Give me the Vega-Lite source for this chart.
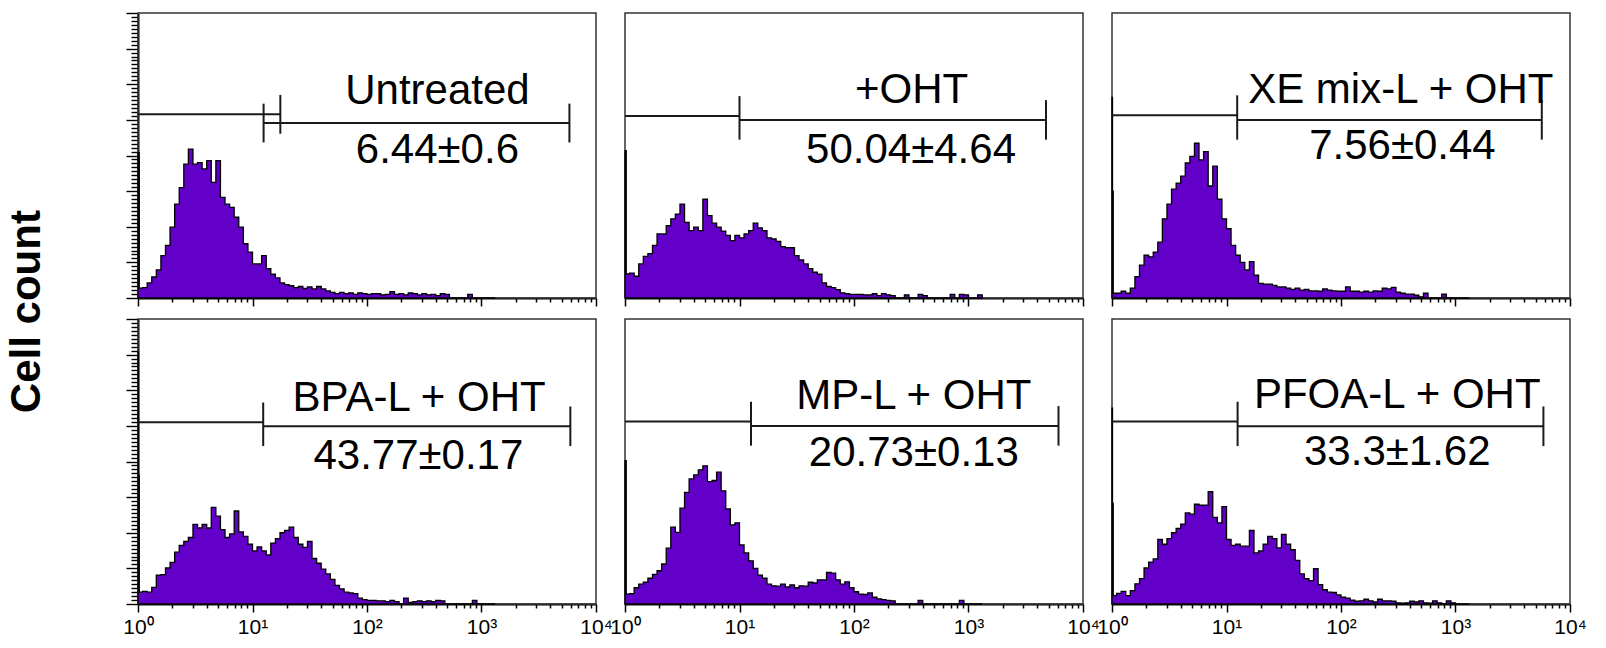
{
  "$schema": "https://vega.github.io/schema/vega-lite/v6.json",
  "background": "white",
  "padding": {"left": 5, "top": 12, "right": 5, "bottom": 5},
  "title": {"text": "Cell count", "orient": "left", "anchor": "middle", "font": "Liberation Sans", "fontSize": 42, "fontWeight": "bold", "color": "black", "offset": 74, "dx": 13},
  "spacing": 11,
  "config": {"view": {"stroke": "#333", "strokeWidth": 1.5}, "font": "Liberation Sans"},
  "datasets": {
    "d": [
      {"p":"A","k":"h","x":1,"c":367},{"p":"A","k":"h","x":1.025,"c":25},{"p":"A","k":"h","x":1.096,"c":26},{"p":"A","k":"h","x":1.202,"c":38},{"p":"A","k":"h","x":1.318,"c":53},{"p":"A","k":"h","x":1.445,"c":71},{"p":"A","k":"h","x":1.585,"c":107},{"p":"A","k":"h","x":1.738,"c":133},{"p":"A","k":"h","x":1.905,"c":179},{"p":"A","k":"h","x":2.089,"c":237},{"p":"A","k":"h","x":2.291,"c":279},{"p":"A","k":"h","x":2.512,"c":338},{"p":"A","k":"h","x":2.754,"c":376},{"p":"A","k":"h","x":3.02,"c":338},{"p":"A","k":"h","x":3.311,"c":342},{"p":"A","k":"h","x":3.631,"c":326},{"p":"A","k":"h","x":3.981,"c":347},{"p":"A","k":"h","x":4.365,"c":292},{"p":"A","k":"h","x":4.786,"c":347},{"p":"A","k":"h","x":5.248,"c":254},{"p":"A","k":"h","x":5.754,"c":237},{"p":"A","k":"h","x":6.31,"c":229},{"p":"A","k":"h","x":6.918,"c":204},{"p":"A","k":"h","x":7.586,"c":179},{"p":"A","k":"h","x":8.318,"c":137},{"p":"A","k":"h","x":9.12,"c":116},{"p":"A","k":"h","x":10,"c":86},{"p":"A","k":"h","x":10.96,"c":86},{"p":"A","k":"h","x":12.02,"c":107},{"p":"A","k":"h","x":13.18,"c":74},{"p":"A","k":"h","x":14.45,"c":60},{"p":"A","k":"h","x":15.85,"c":51},{"p":"A","k":"h","x":17.38,"c":38},{"p":"A","k":"h","x":19.05,"c":34},{"p":"A","k":"h","x":20.89,"c":31},{"p":"A","k":"h","x":22.91,"c":26},{"p":"A","k":"h","x":25.12,"c":29},{"p":"A","k":"h","x":27.54,"c":24},{"p":"A","k":"h","x":30.2,"c":28},{"p":"A","k":"h","x":33.11,"c":23},{"p":"A","k":"h","x":36.31,"c":29},{"p":"A","k":"h","x":39.81,"c":23},{"p":"A","k":"h","x":43.65,"c":18},{"p":"A","k":"h","x":47.86,"c":14},{"p":"A","k":"h","x":52.48,"c":11},{"p":"A","k":"h","x":57.54,"c":14},{"p":"A","k":"h","x":63.1,"c":11},{"p":"A","k":"h","x":69.18,"c":13},{"p":"A","k":"h","x":75.86,"c":9},{"p":"A","k":"h","x":83.18,"c":13},{"p":"A","k":"h","x":91.2,"c":11},{"p":"A","k":"h","x":100,"c":9},{"p":"A","k":"h","x":109.6,"c":11},{"p":"A","k":"h","x":120.2,"c":11},{"p":"A","k":"h","x":131.8,"c":8},{"p":"A","k":"h","x":144.5,"c":9},{"p":"A","k":"h","x":158.5,"c":16},{"p":"A","k":"h","x":173.8,"c":9},{"p":"A","k":"h","x":190.5,"c":11},{"p":"A","k":"h","x":208.9,"c":8},{"p":"A","k":"h","x":229.1,"c":13},{"p":"A","k":"h","x":251.2,"c":11},{"p":"A","k":"h","x":275.4,"c":8},{"p":"A","k":"h","x":302,"c":11},{"p":"A","k":"h","x":331.1,"c":8},{"p":"A","k":"h","x":363.1,"c":9},{"p":"A","k":"h","x":398.1,"c":6},{"p":"A","k":"h","x":436.5,"c":11},{"p":"A","k":"h","x":478.6,"c":9},{"p":"A","k":"h","x":524.8,"c":0},{"p":"A","k":"h","x":758.6,"c":9},{"p":"A","k":"h","x":831.8,"c":0},{"p":"A","k":"h","x":1318,"c":0},

      {"p":"B","k":"h","x":1,"c":372},{"p":"B","k":"h","x":1.025,"c":61},{"p":"B","k":"h","x":1.096,"c":63},{"p":"B","k":"h","x":1.202,"c":55},{"p":"B","k":"h","x":1.318,"c":86},{"p":"B","k":"h","x":1.445,"c":105},{"p":"B","k":"h","x":1.585,"c":112},{"p":"B","k":"h","x":1.738,"c":133},{"p":"B","k":"h","x":1.905,"c":162},{"p":"B","k":"h","x":2.089,"c":162},{"p":"B","k":"h","x":2.291,"c":183},{"p":"B","k":"h","x":2.512,"c":200},{"p":"B","k":"h","x":2.754,"c":212},{"p":"B","k":"h","x":3.02,"c":237},{"p":"B","k":"h","x":3.311,"c":191},{"p":"B","k":"h","x":3.631,"c":170},{"p":"B","k":"h","x":3.981,"c":179},{"p":"B","k":"h","x":4.365,"c":170},{"p":"B","k":"h","x":4.786,"c":250},{"p":"B","k":"h","x":5.248,"c":208},{"p":"B","k":"h","x":5.754,"c":189},{"p":"B","k":"h","x":6.31,"c":179},{"p":"B","k":"h","x":6.918,"c":169},{"p":"B","k":"h","x":7.586,"c":158},{"p":"B","k":"h","x":8.318,"c":145},{"p":"B","k":"h","x":9.12,"c":158},{"p":"B","k":"h","x":10,"c":152},{"p":"B","k":"h","x":10.96,"c":162},{"p":"B","k":"h","x":12.02,"c":170},{"p":"B","k":"h","x":13.18,"c":189},{"p":"B","k":"h","x":14.45,"c":177},{"p":"B","k":"h","x":15.85,"c":170},{"p":"B","k":"h","x":17.38,"c":152},{"p":"B","k":"h","x":19.05,"c":149},{"p":"B","k":"h","x":20.89,"c":143},{"p":"B","k":"h","x":22.91,"c":130},{"p":"B","k":"h","x":25.12,"c":127},{"p":"B","k":"h","x":27.54,"c":127},{"p":"B","k":"h","x":30.2,"c":107},{"p":"B","k":"h","x":33.11,"c":96},{"p":"B","k":"h","x":36.31,"c":86},{"p":"B","k":"h","x":39.81,"c":74},{"p":"B","k":"h","x":43.65,"c":65},{"p":"B","k":"h","x":47.86,"c":60},{"p":"B","k":"h","x":52.48,"c":38},{"p":"B","k":"h","x":57.54,"c":29},{"p":"B","k":"h","x":63.1,"c":26},{"p":"B","k":"h","x":69.18,"c":21},{"p":"B","k":"h","x":75.86,"c":13},{"p":"B","k":"h","x":83.18,"c":11},{"p":"B","k":"h","x":91.2,"c":9},{"p":"B","k":"h","x":100,"c":9},{"p":"B","k":"h","x":109.6,"c":9},{"p":"B","k":"h","x":120.2,"c":8},{"p":"B","k":"h","x":131.8,"c":8},{"p":"B","k":"h","x":144.5,"c":11},{"p":"B","k":"h","x":158.5,"c":6},{"p":"B","k":"h","x":173.8,"c":11},{"p":"B","k":"h","x":190.5,"c":8},{"p":"B","k":"h","x":208.9,"c":6},{"p":"B","k":"h","x":229.1,"c":0},{"p":"B","k":"h","x":275.4,"c":8},{"p":"B","k":"h","x":302,"c":0},{"p":"B","k":"h","x":363.1,"c":9},{"p":"B","k":"h","x":398.1,"c":6},{"p":"B","k":"h","x":436.5,"c":0},{"p":"B","k":"h","x":691.8,"c":9},{"p":"B","k":"h","x":758.6,"c":0},{"p":"B","k":"h","x":831.8,"c":9},{"p":"B","k":"h","x":912,"c":8},{"p":"B","k":"h","x":1000,"c":0},{"p":"B","k":"h","x":1202,"c":8},{"p":"B","k":"h","x":1318,"c":0},

      {"p":"C","k":"h","x":1,"c":507},{"p":"C","k":"h","x":1.01,"c":270},{"p":"C","k":"h","x":1.025,"c":12},{"p":"C","k":"h","x":1.096,"c":12},{"p":"C","k":"h","x":1.202,"c":17},{"p":"C","k":"h","x":1.318,"c":12},{"p":"C","k":"h","x":1.445,"c":25},{"p":"C","k":"h","x":1.585,"c":54},{"p":"C","k":"h","x":1.738,"c":83},{"p":"C","k":"h","x":1.905,"c":108},{"p":"C","k":"h","x":2.089,"c":104},{"p":"C","k":"h","x":2.291,"c":116},{"p":"C","k":"h","x":2.512,"c":141},{"p":"C","k":"h","x":2.754,"c":200},{"p":"C","k":"h","x":3.02,"c":237},{"p":"C","k":"h","x":3.311,"c":275},{"p":"C","k":"h","x":3.631,"c":290},{"p":"C","k":"h","x":3.981,"c":308},{"p":"C","k":"h","x":4.365,"c":341},{"p":"C","k":"h","x":4.786,"c":358},{"p":"C","k":"h","x":5.248,"c":391},{"p":"C","k":"h","x":5.754,"c":349},{"p":"C","k":"h","x":6.31,"c":370},{"p":"C","k":"h","x":6.918,"c":283},{"p":"C","k":"h","x":7.586,"c":333},{"p":"C","k":"h","x":8.318,"c":250},{"p":"C","k":"h","x":9.12,"c":200},{"p":"C","k":"h","x":10,"c":175},{"p":"C","k":"h","x":10.96,"c":133},{"p":"C","k":"h","x":12.02,"c":108},{"p":"C","k":"h","x":13.18,"c":90},{"p":"C","k":"h","x":14.45,"c":71},{"p":"C","k":"h","x":15.85,"c":92},{"p":"C","k":"h","x":17.38,"c":58},{"p":"C","k":"h","x":19.05,"c":37},{"p":"C","k":"h","x":20.89,"c":35},{"p":"C","k":"h","x":22.91,"c":35},{"p":"C","k":"h","x":25.12,"c":32},{"p":"C","k":"h","x":27.54,"c":28},{"p":"C","k":"h","x":30.2,"c":28},{"p":"C","k":"h","x":33.11,"c":25},{"p":"C","k":"h","x":36.31,"c":22},{"p":"C","k":"h","x":39.81,"c":25},{"p":"C","k":"h","x":43.65,"c":20},{"p":"C","k":"h","x":47.86,"c":22},{"p":"C","k":"h","x":52.48,"c":18},{"p":"C","k":"h","x":57.54,"c":18},{"p":"C","k":"h","x":63.1,"c":17},{"p":"C","k":"h","x":69.18,"c":23},{"p":"C","k":"h","x":75.86,"c":20},{"p":"C","k":"h","x":83.18,"c":18},{"p":"C","k":"h","x":91.2,"c":17},{"p":"C","k":"h","x":100,"c":17},{"p":"C","k":"h","x":109.6,"c":28},{"p":"C","k":"h","x":120.2,"c":17},{"p":"C","k":"h","x":131.8,"c":17},{"p":"C","k":"h","x":144.5,"c":15},{"p":"C","k":"h","x":158.5,"c":17},{"p":"C","k":"h","x":173.8,"c":15},{"p":"C","k":"h","x":190.5,"c":18},{"p":"C","k":"h","x":208.9,"c":17},{"p":"C","k":"h","x":229.1,"c":25},{"p":"C","k":"h","x":251.2,"c":23},{"p":"C","k":"h","x":275.4,"c":27},{"p":"C","k":"h","x":302,"c":15},{"p":"C","k":"h","x":331.1,"c":12},{"p":"C","k":"h","x":363.1,"c":10},{"p":"C","k":"h","x":398.1,"c":10},{"p":"C","k":"h","x":436.5,"c":7},{"p":"C","k":"h","x":478.6,"c":3},{"p":"C","k":"h","x":524.8,"c":12},{"p":"C","k":"h","x":575.4,"c":0},{"p":"C","k":"h","x":758.6,"c":10},{"p":"C","k":"h","x":831.8,"c":0},{"p":"C","k":"h","x":1318,"c":0},

      {"p":"D","k":"h","x":1,"c":637},{"p":"D","k":"h","x":1.01,"c":325},{"p":"D","k":"h","x":1.025,"c":30},{"p":"D","k":"h","x":1.096,"c":32},{"p":"D","k":"h","x":1.202,"c":30},{"p":"D","k":"h","x":1.318,"c":42},{"p":"D","k":"h","x":1.445,"c":73},{"p":"D","k":"h","x":1.585,"c":74},{"p":"D","k":"h","x":1.738,"c":91},{"p":"D","k":"h","x":1.905,"c":105},{"p":"D","k":"h","x":2.089,"c":131},{"p":"D","k":"h","x":2.291,"c":148},{"p":"D","k":"h","x":2.512,"c":158},{"p":"D","k":"h","x":2.754,"c":168},{"p":"D","k":"h","x":3.02,"c":201},{"p":"D","k":"h","x":3.311,"c":192},{"p":"D","k":"h","x":3.631,"c":201},{"p":"D","k":"h","x":3.981,"c":192},{"p":"D","k":"h","x":4.365,"c":244},{"p":"D","k":"h","x":4.786,"c":222},{"p":"D","k":"h","x":5.248,"c":188},{"p":"D","k":"h","x":5.754,"c":168},{"p":"D","k":"h","x":6.31,"c":177},{"p":"D","k":"h","x":6.918,"c":235},{"p":"D","k":"h","x":7.586,"c":182},{"p":"D","k":"h","x":8.318,"c":171},{"p":"D","k":"h","x":9.12,"c":151},{"p":"D","k":"h","x":10,"c":134},{"p":"D","k":"h","x":10.96,"c":144},{"p":"D","k":"h","x":12.02,"c":134},{"p":"D","k":"h","x":13.18,"c":124},{"p":"D","k":"h","x":14.45,"c":154},{"p":"D","k":"h","x":15.85,"c":165},{"p":"D","k":"h","x":17.38,"c":180},{"p":"D","k":"h","x":19.05,"c":186},{"p":"D","k":"h","x":20.89,"c":194},{"p":"D","k":"h","x":22.91,"c":168},{"p":"D","k":"h","x":25.12,"c":151},{"p":"D","k":"h","x":27.54,"c":143},{"p":"D","k":"h","x":30.2,"c":158},{"p":"D","k":"h","x":33.11,"c":115},{"p":"D","k":"h","x":36.31,"c":103},{"p":"D","k":"h","x":39.81,"c":88},{"p":"D","k":"h","x":43.65,"c":76},{"p":"D","k":"h","x":47.86,"c":62},{"p":"D","k":"h","x":52.48,"c":47},{"p":"D","k":"h","x":57.54,"c":38},{"p":"D","k":"h","x":63.1,"c":30},{"p":"D","k":"h","x":69.18,"c":28},{"p":"D","k":"h","x":75.86,"c":26},{"p":"D","k":"h","x":83.18,"c":15},{"p":"D","k":"h","x":91.2,"c":11},{"p":"D","k":"h","x":100,"c":9},{"p":"D","k":"h","x":109.6,"c":9},{"p":"D","k":"h","x":120.2,"c":8},{"p":"D","k":"h","x":131.8,"c":8},{"p":"D","k":"h","x":144.5,"c":6},{"p":"D","k":"h","x":158.5,"c":9},{"p":"D","k":"h","x":173.8,"c":6},{"p":"D","k":"h","x":190.5,"c":0},{"p":"D","k":"h","x":208.9,"c":15},{"p":"D","k":"h","x":229.1,"c":4},{"p":"D","k":"h","x":251.2,"c":6},{"p":"D","k":"h","x":275.4,"c":8},{"p":"D","k":"h","x":302,"c":6},{"p":"D","k":"h","x":331.1,"c":8},{"p":"D","k":"h","x":363.1,"c":6},{"p":"D","k":"h","x":398.1,"c":9},{"p":"D","k":"h","x":436.5,"c":8},{"p":"D","k":"h","x":478.6,"c":0},{"p":"D","k":"h","x":831.8,"c":9},{"p":"D","k":"h","x":912,"c":0},{"p":"D","k":"h","x":1318,"c":0},

      {"p":"E","k":"h","x":1,"c":362},{"p":"E","k":"h","x":1.025,"c":25},{"p":"E","k":"h","x":1.096,"c":26},{"p":"E","k":"h","x":1.202,"c":41},{"p":"E","k":"h","x":1.318,"c":50},{"p":"E","k":"h","x":1.445,"c":55},{"p":"E","k":"h","x":1.585,"c":65},{"p":"E","k":"h","x":1.738,"c":75},{"p":"E","k":"h","x":1.905,"c":84},{"p":"E","k":"h","x":2.089,"c":101},{"p":"E","k":"h","x":2.291,"c":141},{"p":"E","k":"h","x":2.512,"c":194},{"p":"E","k":"h","x":2.754,"c":181},{"p":"E","k":"h","x":3.02,"c":242},{"p":"E","k":"h","x":3.311,"c":282},{"p":"E","k":"h","x":3.631,"c":316},{"p":"E","k":"h","x":3.981,"c":326},{"p":"E","k":"h","x":4.365,"c":339},{"p":"E","k":"h","x":4.786,"c":349},{"p":"E","k":"h","x":5.248,"c":309},{"p":"E","k":"h","x":5.754,"c":312},{"p":"E","k":"h","x":6.31,"c":333},{"p":"E","k":"h","x":6.918,"c":286},{"p":"E","k":"h","x":7.586,"c":240},{"p":"E","k":"h","x":8.318,"c":200},{"p":"E","k":"h","x":9.12,"c":205},{"p":"E","k":"h","x":10,"c":149},{"p":"E","k":"h","x":10.96,"c":129},{"p":"E","k":"h","x":12.02,"c":109},{"p":"E","k":"h","x":13.18,"c":90},{"p":"E","k":"h","x":14.45,"c":73},{"p":"E","k":"h","x":15.85,"c":65},{"p":"E","k":"h","x":17.38,"c":50},{"p":"E","k":"h","x":19.05,"c":46},{"p":"E","k":"h","x":20.89,"c":45},{"p":"E","k":"h","x":22.91,"c":50},{"p":"E","k":"h","x":25.12,"c":43},{"p":"E","k":"h","x":27.54,"c":48},{"p":"E","k":"h","x":30.2,"c":41},{"p":"E","k":"h","x":33.11,"c":46},{"p":"E","k":"h","x":36.31,"c":45},{"p":"E","k":"h","x":39.81,"c":55},{"p":"E","k":"h","x":43.65,"c":53},{"p":"E","k":"h","x":47.86,"c":61},{"p":"E","k":"h","x":52.48,"c":61},{"p":"E","k":"h","x":57.54,"c":80},{"p":"E","k":"h","x":63.1,"c":78},{"p":"E","k":"h","x":69.18,"c":61},{"p":"E","k":"h","x":75.86,"c":50},{"p":"E","k":"h","x":83.18,"c":56},{"p":"E","k":"h","x":91.2,"c":41},{"p":"E","k":"h","x":100,"c":31},{"p":"E","k":"h","x":109.6,"c":25},{"p":"E","k":"h","x":120.2,"c":24},{"p":"E","k":"h","x":131.8,"c":28},{"p":"E","k":"h","x":144.5,"c":17},{"p":"E","k":"h","x":158.5,"c":13},{"p":"E","k":"h","x":173.8,"c":11},{"p":"E","k":"h","x":190.5,"c":9},{"p":"E","k":"h","x":208.9,"c":8},{"p":"E","k":"h","x":229.1,"c":0},{"p":"E","k":"h","x":363.1,"c":9},{"p":"E","k":"h","x":398.1,"c":0},{"p":"E","k":"h","x":831.8,"c":9},{"p":"E","k":"h","x":912,"c":0},{"p":"E","k":"h","x":1318,"c":0},

      {"p":"F","k":"h","x":1,"c":495},{"p":"F","k":"h","x":1.01,"c":254},{"p":"F","k":"h","x":1.025,"c":21},{"p":"F","k":"h","x":1.096,"c":27},{"p":"F","k":"h","x":1.202,"c":32},{"p":"F","k":"h","x":1.318,"c":21},{"p":"F","k":"h","x":1.445,"c":34},{"p":"F","k":"h","x":1.585,"c":51},{"p":"F","k":"h","x":1.738,"c":64},{"p":"F","k":"h","x":1.905,"c":91},{"p":"F","k":"h","x":2.089,"c":106},{"p":"F","k":"h","x":2.291,"c":114},{"p":"F","k":"h","x":2.512,"c":163},{"p":"F","k":"h","x":2.754,"c":151},{"p":"F","k":"h","x":3.02,"c":165},{"p":"F","k":"h","x":3.311,"c":180},{"p":"F","k":"h","x":3.631,"c":191},{"p":"F","k":"h","x":3.981,"c":202},{"p":"F","k":"h","x":4.365,"c":230},{"p":"F","k":"h","x":4.786,"c":227},{"p":"F","k":"h","x":5.248,"c":252},{"p":"F","k":"h","x":5.754,"c":250},{"p":"F","k":"h","x":6.31,"c":250},{"p":"F","k":"h","x":6.918,"c":284},{"p":"F","k":"h","x":7.586,"c":219},{"p":"F","k":"h","x":8.318,"c":205},{"p":"F","k":"h","x":9.12,"c":246},{"p":"F","k":"h","x":10,"c":163},{"p":"F","k":"h","x":10.96,"c":148},{"p":"F","k":"h","x":12.02,"c":151},{"p":"F","k":"h","x":13.18,"c":146},{"p":"F","k":"h","x":14.45,"c":146},{"p":"F","k":"h","x":15.85,"c":186},{"p":"F","k":"h","x":17.38,"c":129},{"p":"F","k":"h","x":19.05,"c":134},{"p":"F","k":"h","x":20.89,"c":151},{"p":"F","k":"h","x":22.91,"c":171},{"p":"F","k":"h","x":25.12,"c":165},{"p":"F","k":"h","x":27.54,"c":142},{"p":"F","k":"h","x":30.2,"c":176},{"p":"F","k":"h","x":33.11,"c":151},{"p":"F","k":"h","x":36.31,"c":137},{"p":"F","k":"h","x":39.81,"c":110},{"p":"F","k":"h","x":43.65,"c":76},{"p":"F","k":"h","x":47.86,"c":64},{"p":"F","k":"h","x":52.48,"c":59},{"p":"F","k":"h","x":57.54,"c":89},{"p":"F","k":"h","x":63.1,"c":49},{"p":"F","k":"h","x":69.18,"c":36},{"p":"F","k":"h","x":75.86,"c":30},{"p":"F","k":"h","x":83.18,"c":29},{"p":"F","k":"h","x":91.2,"c":23},{"p":"F","k":"h","x":100,"c":17},{"p":"F","k":"h","x":109.6,"c":15},{"p":"F","k":"h","x":120.2,"c":10},{"p":"F","k":"h","x":131.8,"c":7},{"p":"F","k":"h","x":144.5,"c":8},{"p":"F","k":"h","x":158.5,"c":12},{"p":"F","k":"h","x":173.8,"c":8},{"p":"F","k":"h","x":190.5,"c":5},{"p":"F","k":"h","x":208.9,"c":12},{"p":"F","k":"h","x":229.1,"c":8},{"p":"F","k":"h","x":251.2,"c":8},{"p":"F","k":"h","x":275.4,"c":7},{"p":"F","k":"h","x":302,"c":3},{"p":"F","k":"h","x":331.1,"c":2},{"p":"F","k":"h","x":363.1,"c":3},{"p":"F","k":"h","x":398.1,"c":7},{"p":"F","k":"h","x":436.5,"c":5},{"p":"F","k":"h","x":478.6,"c":8},{"p":"F","k":"h","x":524.8,"c":3},{"p":"F","k":"h","x":575.4,"c":2},{"p":"F","k":"h","x":631,"c":8},{"p":"F","k":"h","x":691.8,"c":3},{"p":"F","k":"h","x":758.6,"c":0},{"p":"F","k":"h","x":831.8,"c":8},{"p":"F","k":"h","x":912,"c":3},{"p":"F","k":"h","x":1000,"c":0},{"p":"F","k":"h","x":1318,"c":0},

      {"p":"A","k":"g","x":1,"x2":17.5,"y":464},{"p":"A","k":"t","x":17.5,"y":415,"y2":513},{"p":"A","k":"g","x":12.5,"x2":5860,"y":442},{"p":"A","k":"t","x":12.5,"y":393,"y2":491},{"p":"A","k":"t","x":5860,"y":393,"y2":491},
      {"p":"B","k":"g","x":1,"x2":10,"y":460},{"p":"B","k":"t","x":10,"y":400,"y2":510},{"p":"B","k":"g","x":10,"x2":4750,"y":450},{"p":"B","k":"t","x":4750,"y":400,"y2":500},
      {"p":"C","k":"g","x":1,"x2":12.4,"y":462},{"p":"C","k":"t","x":12.4,"y":400,"y2":512},{"p":"C","k":"g","x":12.4,"x2":5670,"y":450},{"p":"C","k":"t","x":5670,"y":400,"y2":500},
      {"p":"D","k":"g","x":1,"x2":12.4,"y":459},{"p":"D","k":"t","x":12.4,"y":399,"y2":509},{"p":"D","k":"g","x":12.4,"x2":5970,"y":449},{"p":"D","k":"t","x":5970,"y":399,"y2":499},
      {"p":"E","k":"g","x":1,"x2":12.6,"y":461},{"p":"E","k":"t","x":12.6,"y":400,"y2":511},{"p":"E","k":"g","x":12.6,"x2":6110,"y":450},{"p":"E","k":"t","x":6110,"y":400,"y2":500},
      {"p":"F","k":"g","x":1,"x2":12.5,"y":461},{"p":"F","k":"t","x":12.5,"y":399,"y2":511},{"p":"F","k":"g","x":12.5,"x2":5860,"y":449},{"p":"F","k":"t","x":5860,"y":399,"y2":499},

      {"p":"A","k":"l","x":412,"y":490,"t":"Untreated"},{"p":"A","k":"l","x":412,"y":342,"t":"6.44±0.6"},
      {"p":"B","k":"l","x":319,"y":493,"t":"+OHT"},{"p":"B","k":"l","x":315,"y":342,"t":"50.04±4.64"},
      {"p":"C","k":"l","x":333,"y":492,"t":"XE mix-L + OHT"},{"p":"C","k":"l","x":344,"y":350,"t":"7.56±0.44"},
      {"p":"D","k":"l","x":285,"y":487,"t":"BPA-L + OHT"},{"p":"D","k":"l","x":281,"y":342,"t":"43.77±0.17"},
      {"p":"E","k":"l","x":333,"y":493,"t":"MP-L + OHT"},{"p":"E","k":"l","x":333,"y":349,"t":"20.73±0.13"},
      {"p":"F","k":"l","x":310,"y":496,"t":"PFOA-L + OHT"},{"p":"F","k":"l","x":310,"y":351,"t":"33.3±1.62"}
    ]
  },
  "vconcat": [
    {
      "data": {"name": "d"},
      "transform": [{"filter": "indexof(['A','B','C'], datum.p) >= 0"}],
      "facet": {"column": {"field": "p", "type": "nominal", "sort": ["A", "B", "C"], "title": null, "header": {"labels": false}}},
      "spacing": 29,
      "bounds": "flush",
      "spec": {
        "width": 458,
        "height": 285,
        "layer": [
          {
            "transform": [{"filter": "datum.k === 'h'"}],
            "mark": {"type": "area", "interpolate": "step-after", "fill": "#6200CA", "fillOpacity": 1, "stroke": "black", "strokeWidth": 1.3},
            "encoding": {
              "x": {"field": "x", "type": "quantitative", "title": null, "scale": {"type": "log", "domain": [1, 10000], "nice": false},
                "axis": {"values": [1,2,3,4,5,6,7,8,9,10,20,30,40,50,60,70,80,90,100,200,300,400,500,600,700,800,900,1000,2000,3000,4000,5000,6000,7000,8000,9000,10000],
                  "tickCount": 1000, "labels": false, "grid": false, "domainColor": "black", "domainWidth": 2, "tickColor": "black", "tickWidth": 1.5,
                  "tickSize": {"condition": {"test": "indexof([1,10,100,1000,10000], datum.value) >= 0", "value": 8}, "value": 4}}},
              "y": {"field": "c", "type": "quantitative", "title": null, "scale": {"domain": [0, 720], "nice": false},
                "axis": {"values": [0,10,20,30,40,50,60,70,80,90,100,110,120,130,140,150,160,170,180,190,200,210,220,230,240,250,260,270,280,290,300,310,320,330,340,350,360,370,380,390,400,410,420,430,440,450,460,470,480,490,500,510,520,530,540,550,560,570,580,590,600,610,620,630,640,650,660,670,680,690,700,710,720],
                  "tickCount": 1000, "labels": false, "grid": false, "domainColor": "black", "domainWidth": 2, "tickColor": "black", "tickWidth": 1.4,
                  "tickSize": {"condition": {"test": "datum.value % 90 == 0", "value": 12}, "value": 7}}}
            }
          },
          {
            "transform": [{"filter": "datum.k === 'g'"}],
            "mark": {"type": "rule", "color": "#1a1a1a", "strokeWidth": 2},
            "encoding": {"x": {"field": "x", "type": "quantitative", "title": null}, "x2": {"field": "x2"}, "y": {"field": "y", "type": "quantitative", "title": null}}
          },
          {
            "transform": [{"filter": "datum.k === 't'"}],
            "mark": {"type": "rule", "color": "#1a1a1a", "strokeWidth": 2},
            "encoding": {"x": {"field": "x", "type": "quantitative", "title": null}, "y": {"field": "y", "type": "quantitative", "title": null}, "y2": {"field": "y2"}}
          },
          {
            "transform": [{"filter": "datum.k === 'l'"}],
            "mark": {"type": "text", "font": "Liberation Sans", "fontSize": 42, "align": "center", "baseline": "alphabetic", "color": "black"},
            "encoding": {"x": {"field": "x", "type": "quantitative", "title": null}, "y": {"field": "y", "type": "quantitative", "title": null}, "text": {"field": "t"}}
          }
        ]
      }
    },
    {
      "data": {"name": "d"},
      "transform": [{"filter": "indexof(['D','E','F'], datum.p) >= 0"}],
      "facet": {"column": {"field": "p", "type": "nominal", "sort": ["D", "E", "F"], "title": null, "header": {"labels": false}}},
      "spacing": 29,
      "bounds": "flush",
      "spec": {
        "width": 458,
        "height": 285,
        "layer": [
          {
            "transform": [{"filter": "datum.k === 'h'"}],
            "mark": {"type": "area", "interpolate": "step-after", "fill": "#6200CA", "fillOpacity": 1, "stroke": "black", "strokeWidth": 1.3},
            "encoding": {
              "x": {"field": "x", "type": "quantitative", "title": null, "scale": {"type": "log", "domain": [1, 10000], "nice": false},
                "axis": {"values": [1,2,3,4,5,6,7,8,9,10,20,30,40,50,60,70,80,90,100,200,300,400,500,600,700,800,900,1000,2000,3000,4000,5000,6000,7000,8000,9000,10000],
                  "tickCount": 1000,
                  "labelExpr": "indexof([1,10,100,1000,10000], datum.value) >= 0 ? '10' + ['⁰','¹','²','³','⁴'][indexof([1,10,100,1000,10000], datum.value)] : ''",
                  "labelFont": "Liberation Sans", "labelFontSize": 21, "labelColor": "black", "labelFlush": false, "labelOverlap": false, "labelBound": false, "labelPadding": 4,
                  "grid": false, "domainColor": "black", "domainWidth": 2, "tickColor": "black", "tickWidth": 1.5,
                  "tickSize": {"condition": {"test": "indexof([1,10,100,1000,10000], datum.value) >= 0", "value": 8}, "value": 4}}},
              "y": {"field": "c", "type": "quantitative", "title": null, "scale": {"domain": [0, 720], "nice": false},
                "axis": {"values": [0,10,20,30,40,50,60,70,80,90,100,110,120,130,140,150,160,170,180,190,200,210,220,230,240,250,260,270,280,290,300,310,320,330,340,350,360,370,380,390,400,410,420,430,440,450,460,470,480,490,500,510,520,530,540,550,560,570,580,590,600,610,620,630,640,650,660,670,680,690,700,710,720],
                  "tickCount": 1000, "labels": false, "grid": false, "domainColor": "black", "domainWidth": 2, "tickColor": "black", "tickWidth": 1.4,
                  "tickSize": {"condition": {"test": "datum.value % 90 == 0", "value": 12}, "value": 7}}}
            }
          },
          {
            "transform": [{"filter": "datum.k === 'g'"}],
            "mark": {"type": "rule", "color": "#1a1a1a", "strokeWidth": 2},
            "encoding": {"x": {"field": "x", "type": "quantitative", "title": null}, "x2": {"field": "x2"}, "y": {"field": "y", "type": "quantitative", "title": null}}
          },
          {
            "transform": [{"filter": "datum.k === 't'"}],
            "mark": {"type": "rule", "color": "#1a1a1a", "strokeWidth": 2},
            "encoding": {"x": {"field": "x", "type": "quantitative", "title": null}, "y": {"field": "y", "type": "quantitative", "title": null}, "y2": {"field": "y2"}}
          },
          {
            "transform": [{"filter": "datum.k === 'l'"}],
            "mark": {"type": "text", "font": "Liberation Sans", "fontSize": 42, "align": "center", "baseline": "alphabetic", "color": "black"},
            "encoding": {"x": {"field": "x", "type": "quantitative", "title": null}, "y": {"field": "y", "type": "quantitative", "title": null}, "text": {"field": "t"}}
          }
        ]
      }
    }
  ]
}
